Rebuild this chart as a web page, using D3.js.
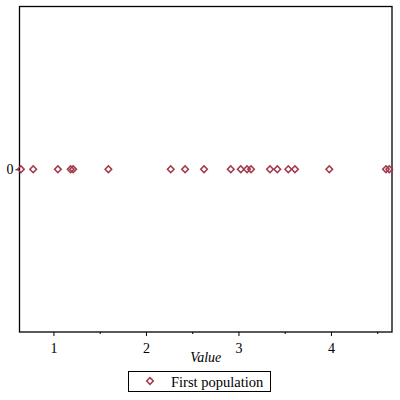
<!DOCTYPE html>
<html>
<head>
<meta charset="utf-8">
<script src="https://cdn.jsdelivr.net/npm/d3@7"></script>
<style>
body { margin: 0; background: #fff; }
</style>
</head>
<body>
<svg width="400" height="400"></svg>
<script>
// values
var values = [0.648, 0.781, 1.048, 1.186, 1.213, 1.594, 2.268, 2.423, 2.628, 2.917,
              3.025, 3.093, 3.136, 3.341, 3.420, 3.539, 3.611, 3.982, 4.595, 4.630];
var xTicks = [1, 2, 3, 4];
var xMinor = [1.5, 2.5, 3.5, 4.5];
var yTicks = [0];
var seriesName = "First population";
var xLabel = "Value";

var serif = "Times New Roman, Liberation Serif, DejaVu Serif, serif";
var svg = d3.select("svg");
// plot box (note: "top" is taken by window.top, so pL/pR/pT/pB)
var pL = 19.5, pR = 392, pT = 6.5, pB = 332;
var col = "#a33a4c";

var x = d3.scaleLinear().domain([0.633, 4.66]).range([pL, pR]);
var y = d3.scaleLinear().domain([-1, 1]).range([pB, pT]);

// frame
svg.append("rect")
    .attr("x", pL).attr("y", pT)
    .attr("width", pR - pL).attr("height", pB - pT)
    .attr("fill", "none").attr("stroke", "#000").attr("stroke-width", 1.3);

// x axis, major + minor ticks
var xa = svg.append("g").attr("transform", "translate(0," + pB + ")")
    .call(d3.axisBottom(x).tickValues(xTicks).tickSize(4).tickFormat(d3.format("d")));
xa.select(".domain").remove();
xa.attr("font-family", serif).attr("font-size", 14);
xa.selectAll("text").attr("dy", "1.0em");
svg.append("g").attr("transform", "translate(0," + pB + ")")
    .call(d3.axisBottom(x).tickValues(xMinor).tickSize(2).tickFormat(""))
    .select(".domain").remove();

// y axis, just the 0
var ya = svg.append("g").attr("transform", "translate(" + pL + ",0)")
    .call(d3.axisLeft(y).tickValues(yTicks).tickSize(4).tickFormat(d3.format("d")));
ya.select(".domain").remove();
ya.attr("font-family", serif).attr("font-size", 14);
ya.selectAll("text").attr("x", -6);

svg.append("text")
    .attr("x", (pL + pR) / 2).attr("y", 362)
    .attr("text-anchor", "middle")
    .attr("font-family", serif).attr("font-size", 14).attr("font-style", "italic")
    .text(xLabel);

var diamond = d3.symbol().type(d3.symbolSquare).size(22);

svg.append("g").selectAll("path")
    .data(values)
    .join("path")
    .attr("d", diamond)
    .attr("transform", function(d) { return "translate(" + x(d) + "," + y(0) + ") rotate(45)"; })
    .attr("fill", "none")
    .attr("stroke", col)
    .attr("stroke-width", 1.5);

// legend
var lg = svg.append("g");
lg.append("rect")
    .attr("x", 128.5).attr("y", 371.5).attr("width", 142).attr("height", 20)
    .attr("fill", "none").attr("stroke", "#000").attr("stroke-width", 1);
lg.append("path")
    .attr("d", diamond)
    .attr("transform", "translate(150,381) rotate(45)")
    .attr("fill", "none").attr("stroke", col).attr("stroke-width", 1.5);
lg.append("text")
    .attr("x", 171).attr("y", 386.5)
    .attr("font-family", serif).attr("font-size", 14.5)
    .text(seriesName);
</script>
</body>
</html>
